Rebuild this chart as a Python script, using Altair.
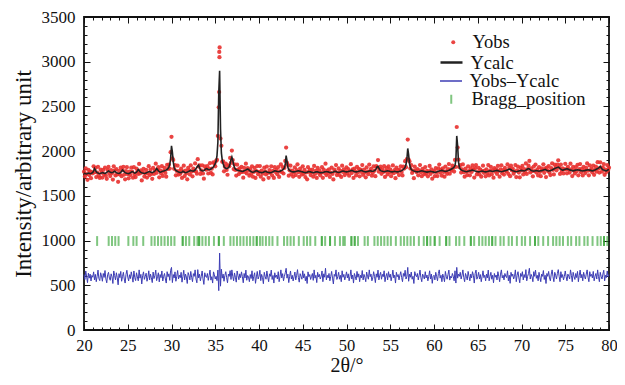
import altair as alt
import pandas as pd

FONT = "Liberation Serif"

# 2theta grid: 20.0 .. 80.0, step 0.1
X_START = 20.0
X_STEP = 0.1

# Ycalc (black line), one row per degree
YCALC = [
    1750, 1752, 1748, 1745, 1750, 1755, 1752, 1748, 1750, 1755,
    1762, 1780, 1805, 1790, 1770, 1760, 1755, 1750, 1748, 1752,
    1755, 1760, 1758, 1752, 1750, 1755, 1762, 1770, 1778, 1772,
    1765, 1760, 1758, 1762, 1770, 1775, 1768, 1760, 1755, 1752,
    1750, 1755, 1762, 1775, 1790, 1780, 1768, 1760, 1755, 1752,
    1750, 1748, 1752, 1758, 1765, 1772, 1768, 1760, 1755, 1758,
    1765, 1778, 1795, 1785, 1770, 1762, 1758, 1755, 1752, 1750,
    1752, 1756, 1760, 1765, 1770, 1772, 1768, 1762, 1760, 1765,
    1770, 1778, 1790, 1805, 1795, 1780, 1770, 1765, 1768, 1772,
    1775, 1778, 1782, 1786, 1790, 1795, 1805, 1820, 1850, 1920,
    2060, 1990, 1880, 1820, 1795, 1785, 1778, 1772, 1768, 1765,
    1762, 1760, 1765, 1775, 1770, 1762, 1758, 1760, 1765, 1770,
    1775, 1780, 1785, 1782, 1778, 1775, 1780, 1790, 1805, 1820,
    1835, 1845, 1815, 1795, 1785, 1780, 1778, 1782, 1790, 1800,
    1805, 1800, 1795, 1792, 1795, 1800, 1808, 1815, 1825, 1840,
    1860, 1890, 1950, 2100, 2650, 2900, 2250, 1980, 1900, 1860,
    1830, 1815, 1808, 1805, 1808, 1815, 1830, 1860, 1905, 1935,
    1900, 1850, 1815, 1800, 1792, 1788, 1785, 1782, 1780, 1778,
    1775, 1772, 1775, 1780, 1785, 1790, 1795, 1800, 1795, 1785,
    1778, 1772, 1768, 1765, 1768, 1772, 1778, 1782, 1778, 1772,
    1768, 1765, 1762, 1760, 1762, 1765, 1770, 1775, 1772, 1768,
    1765, 1762, 1760, 1758, 1760, 1765, 1770, 1775, 1780, 1778,
    1775, 1772, 1770, 1772, 1775, 1780, 1785, 1792, 1800, 1812,
    1850, 1950, 1890, 1820, 1795, 1785, 1778, 1772, 1770, 1768,
    1768, 1770, 1772, 1775, 1778, 1780, 1778, 1775, 1772, 1770,
    1768, 1765, 1762, 1760, 1762, 1765, 1770, 1772, 1770, 1768,
    1765, 1762, 1760, 1762, 1765, 1768, 1770, 1768, 1765, 1762,
    1760, 1758, 1760, 1762, 1765, 1768, 1770, 1772, 1770, 1768,
    1765, 1762, 1760, 1762, 1765, 1768, 1772, 1775, 1772, 1768,
    1765, 1762, 1765, 1768, 1772, 1775, 1778, 1775, 1772, 1770,
    1768, 1770, 1772, 1775, 1778, 1782, 1785, 1780, 1775, 1772,
    1770, 1768, 1770, 1772, 1775, 1778, 1782, 1785, 1780, 1775,
    1772, 1770, 1768, 1770, 1772, 1775, 1778, 1780, 1778, 1775,
    1775, 1778, 1782, 1790, 1805, 1825, 1830, 1810, 1792, 1782,
    1778, 1775, 1772, 1770, 1772, 1775, 1778, 1780, 1778, 1775,
    1772, 1770, 1768, 1770, 1772, 1775, 1772, 1770, 1768, 1770,
    1772, 1775, 1778, 1782, 1788, 1795, 1805, 1820, 1850, 1910,
    2030, 1960, 1860, 1815, 1795, 1788, 1782, 1778, 1775, 1772,
    1770, 1768, 1770, 1772, 1775, 1778, 1780, 1778, 1775, 1772,
    1770, 1768, 1765, 1768, 1770, 1772, 1775, 1772, 1770, 1768,
    1765, 1762, 1765, 1768, 1772, 1775, 1778, 1780, 1782, 1785,
    1782, 1778, 1775, 1772, 1775, 1778, 1780, 1785, 1790, 1795,
    1800, 1805, 1812, 1822, 1840, 1900, 2170, 2060, 1880, 1820,
    1800, 1790, 1785, 1780, 1778, 1775, 1772, 1770, 1772, 1775,
    1778, 1780, 1782, 1785, 1788, 1785, 1780, 1778, 1775, 1772,
    1770, 1768, 1770, 1772, 1775, 1778, 1775, 1772, 1770, 1768,
    1770, 1772, 1775, 1778, 1780, 1778, 1775, 1772, 1775, 1778,
    1780, 1782, 1785, 1782, 1778, 1775, 1772, 1770, 1772, 1775,
    1778, 1780, 1782, 1785, 1790, 1795, 1800, 1798, 1792, 1785,
    1780, 1778, 1775, 1772, 1770, 1772, 1775, 1778, 1780, 1782,
    1785, 1782, 1780, 1778, 1782, 1788, 1795, 1800, 1805, 1800,
    1792, 1785, 1780, 1778, 1775, 1778, 1780, 1782, 1780, 1778,
    1775, 1778, 1780, 1782, 1785, 1788, 1792, 1795, 1790, 1785,
    1780, 1778, 1780, 1782, 1785, 1790, 1795, 1800, 1805, 1810,
    1815, 1818, 1822, 1815, 1805, 1798, 1792, 1788, 1790, 1795,
    1798, 1800, 1802, 1800, 1795, 1790, 1788, 1785, 1782, 1780,
    1782, 1785, 1788, 1790, 1792, 1790, 1788, 1785, 1782, 1780,
    1778, 1780, 1782, 1785, 1788, 1790, 1792, 1790, 1788, 1785,
    1782, 1780, 1782, 1785, 1790, 1795, 1800, 1805, 1810, 1820,
    1830, 1815, 1800, 1792, 1788, 1785, 1782, 1780, 1785, 1792,
    1795,
]

# Yobs - Ycalc curve (blue), drawn shifted up by OFFSET
OFFSET = 600
DIFF = [
    620, 565, 660, 598, 530, 635, 580, 625, 548, 610,
    590, 650, 560, 622, 540, 600, 670, 575, 552, 640,
    605, 545, 632, 588, 665, 570, 528, 618, 645, 580,
    556, 628, 595, 520, 660, 608, 560, 640, 585, 505,
    630, 585, 655, 545, 598, 645, 570, 525, 622, 668,
    592, 548, 618, 575, 650, 600, 535, 660, 586, 552,
    640, 594, 550, 672, 580, 622, 515, 608, 650, 566,
    600, 635, 545, 590, 662, 560, 625, 584, 530, 648,
    575, 610, 670, 552, 596, 640, 538, 620, 585, 660,
    548, 600, 632, 570, 525, 652, 596, 628, 555, 668,
    700, 530, 620, 582, 650, 545, 600, 665, 570, 612,
    585, 645, 535, 600, 668, 560, 625, 592, 520, 642,
    610, 560, 655, 590, 540, 630, 600, 672, 570, 528,
    675, 582, 625, 550, 600, 660, 572, 510, 640, 598,
    588, 632, 555, 610, 670, 558, 596, 525, 650, 618,
    570, 600, 552, 670, 440, 860, 490, 680, 580, 625,
    545, 610, 652, 585, 528, 625, 600, 664, 565, 672,
    600, 550, 638, 590, 535, 660, 608, 562, 628, 585,
    650, 596, 528, 632, 582, 670, 556, 610, 592, 540,
    620, 576, 662, 550, 600, 640, 522, 594, 655, 570,
    600, 668, 552, 622, 586, 518, 645, 600, 568, 660,
    592, 540, 628, 600, 670, 565, 610, 525, 640, 588,
    615, 570, 652, 540, 600, 672, 582, 630, 550, 600,
    640, 690, 580, 625, 530, 600, 660, 570, 612, 548,
    596, 648, 560, 612, 675, 585, 535, 630, 600, 568,
    662, 582, 628, 550, 600, 520, 650, 596, 620, 565,
    600, 632, 555, 672, 580, 612, 530, 645, 592, 622,
    570, 600, 660, 540, 628, 590, 690, 560, 612, 582,
    632, 550, 600, 655, 580, 515, 622, 600, 672, 565,
    596, 645, 568, 612, 540, 662, 590, 622, 560, 600,
    650, 582, 628, 550, 600, 672, 570, 615, 525, 632,
    600, 560, 655, 590, 628, 540, 612, 582, 665, 560,
    622, 590, 540, 648, 600, 568, 672, 596, 625, 550,
    582, 652, 600, 530, 628, 590, 670, 560, 612, 645,
    568, 622, 596, 662, 540, 600, 632, 560, 652, 590,
    625, 550, 600, 670, 582, 612, 525, 645, 596, 620,
    560, 612, 652, 586, 540, 632, 600, 668, 570, 600,
    700, 545, 625, 590, 648, 568, 600, 520, 652, 612,
    596, 632, 560, 612, 670, 586, 540, 625, 600, 570,
    652, 582, 615, 550, 600, 662, 570, 625, 522, 600,
    612, 560, 645, 596, 550, 632, 672, 580, 612, 540,
    625, 590, 540, 655, 600, 568, 620, 670, 558, 600,
    582, 632, 600, 550, 662, 525, 700, 580, 625, 600,
    645, 570, 612, 672, 586, 540, 632, 600, 560, 655,
    600, 550, 625, 582, 652, 612, 525, 632, 670, 568,
    596, 645, 570, 620, 540, 600, 662, 586, 612, 550,
    625, 582, 670, 550, 600, 645, 568, 612, 528, 632,
    590, 615, 560, 652, 600, 540, 625, 672, 582, 612,
    560, 632, 600, 586, 662, 550, 612, 522, 645, 600,
    625, 570, 600, 672, 540, 612, 652, 582, 528, 632,
    600, 652, 560, 620, 586, 675, 550, 600, 632, 690,
    570, 622, 596, 540, 652, 600, 670, 578, 612, 550,
    645, 590, 540, 625, 600, 665, 565, 612, 520, 632,
    600, 655, 582, 550, 625, 672, 596, 540, 645, 612,
    570, 632, 675, 600, 540, 652, 586, 620, 560, 600,
    660, 596, 550, 625, 600, 570, 672, 612, 540, 645,
    600, 565, 632, 586, 655, 540, 612, 670, 582, 622,
    550, 645, 600, 570, 625, 672, 590, 540, 652, 600,
    622, 582, 655, 550, 600, 632, 570, 672, 596, 540,
    645, 600, 570, 625, 668, 550, 612, 586, 660, 596,
    620,
]

# extra observed points stacked at the top of the main peak
PEAK_X = [35.46, 35.48, 35.44]
PEAK_Y = [3110, 3050, 2660]

# Bragg reflection positions (repeated entries = overlapping reflections)
BRAGG = [
    21.50, 22.82, 23.20, 23.57, 23.95, 25.07, 25.64, 26.01, 26.77, 27.71,
    28.08, 28.46, 28.83, 29.21, 29.59, 29.96, 30.34, 31.28, 31.28, 31.65,
    32.03, 32.59, 32.97, 33.16, 33.16, 33.53, 33.91, 34.28, 34.85, 35.41,
    35.41, 35.98, 36.73, 37.10, 37.48, 37.86, 38.23, 38.61, 38.98, 39.36,
    39.74, 39.74, 40.11, 40.41, 40.79, 41.17, 41.54, 42.11, 42.86, 43.23,
    43.61, 43.98, 44.55, 45.11, 45.49, 45.86, 46.43, 47.18, 47.18, 47.56,
    48.12, 48.12, 48.68, 49.25, 49.62, 49.81, 50.56, 50.56, 50.94, 50.94,
    51.31, 52.07, 52.44, 53.19, 53.57, 53.95, 54.32, 54.70, 55.07, 55.64,
    56.20, 56.58, 56.95, 57.33, 57.71, 58.27, 58.83, 59.21, 59.21, 59.59,
    60.08, 60.08, 60.64, 61.39, 61.39, 61.77, 62.52, 62.90, 63.46, 64.21,
    64.21, 64.59, 65.15, 65.53, 65.90, 66.28, 66.65, 66.65, 67.03, 67.59,
    67.97, 68.53, 68.91, 69.47, 70.04, 70.41, 70.98, 71.54, 71.54, 71.92,
    72.48, 73.04, 73.61, 73.98, 74.36, 74.74, 75.30, 75.68, 76.24, 76.62,
    77.18, 77.56, 78.12, 78.68, 79.06, 79.43, 79.43, 79.81,
]
BRAGG_LOW = 940
BRAGG_HIGH = 1050

X_TICKS = [20, 25, 30, 35, 40, 45, 50, 55, 60, 65, 70, 75, 80]
Y_TICKS = [0, 500, 1000, 1500, 2000, 2500, 3000, 3500]
X_MINOR = list(range(20, 81))
Y_MINOR = list(range(0, 3501, 100))

SERIES = ["Yobs", "Ycalc", "Yobs\u2013Ycalc", "Bragg_position"]
COLORS = ["#e8302e", "#222222", "#3c3cb4", "#2ca02c"]

W, H = 525, 313

n = min(len(YCALC), len(DIFF))
xs = [round(X_START + X_STEP * i, 1) for i in range(n)]
ycalc = YCALC[:n]
diff = DIFF[:n]
yobs = [c + d - OFFSET for c, d in zip(ycalc, diff)]

obs_df = pd.DataFrame({"x": xs + PEAK_X, "y": yobs + PEAK_Y, "s": SERIES[0]})
calc_df = pd.DataFrame({"x": xs, "y": ycalc, "s": SERIES[1]})
diff_df = pd.DataFrame({"x": xs, "y": diff, "s": SERIES[2]})
bragg_df = pd.DataFrame({"x": BRAGG, "y": BRAGG_LOW, "y2": BRAGG_HIGH, "s": SERIES[3]})

xscale = alt.Scale(domain=[20, 80], nice=False, zero=False)
yscale = alt.Scale(domain=[0, 3500], nice=False, zero=False)


def tick_axis(orient, values, size, offset):
    return alt.Axis(orient=orient, values=values, tickSize=size, offset=offset,
                    labels=False, domain=False, grid=False, title=None,
                    tickColor="#111111", tickWidth=1)


main_x = alt.Axis(orient="bottom", values=X_TICKS, ticks=False, domain=False, grid=False,
                  labelFont=FONT, labelFontSize=16.5, labelPadding=7, labelColor="#111111",
                  labelFlush=False, labelOverlap=False, format="d",
                  title="2\u03b8/\u00b0", titleFont=FONT, titleFontSize=20,
                  titleFontWeight="normal", titleColor="#111111", titlePadding=2)
main_y = alt.Axis(orient="left", values=Y_TICKS, ticks=False, domain=False, grid=False,
                  labelFont=FONT, labelFontSize=17, labelPadding=9, labelColor="#111111",
                  labelFlush=False, labelOverlap=False, format="d",
                  title="Intensity/arbitrary unit", titleFont=FONT, titleFontSize=23,
                  titleFontWeight="normal", titleColor="#111111", titlePadding=6)

LEG_Y = [16, 33, 52, 73]


def leg(row, lx, loff, **kw):
    return alt.Legend(orient="none", legendX=lx, legendY=LEG_Y[row], title=None,
                      labelFont=FONT, labelFontSize=18.5, labelColor="#111111",
                      padding=0, labelOffset=loff, **kw)


def cscale(i):
    return alt.Scale(domain=[SERIES[i]], range=[COLORS[i]])


obs = alt.Chart(obs_df).mark_circle(size=18, opacity=0.9).encode(
    x=alt.X("x:Q", scale=xscale, axis=main_x),
    y=alt.Y("y:Q", scale=yscale, axis=main_y),
    color=alt.Color("s:N", scale=cscale(0),
                    legend=leg(0, 360, 10, symbolType="circle", symbolSize=16)),
)

calc = alt.Chart(calc_df).mark_line(strokeWidth=1.6).encode(
    x=alt.X("x:Q", scale=xscale, axis=tick_axis("top", X_MINOR, 3, -H)),
    y=alt.Y("y:Q", scale=yscale, axis=tick_axis("right", Y_MINOR, 3, -W)),
    color=alt.Color("s:N", scale=cscale(1),
                    legend=leg(1, 355, 6.5, symbolType="stroke", symbolSize=484,
                               symbolStrokeWidth=2.5)),
)

dif = alt.Chart(diff_df).mark_line(strokeWidth=1).encode(
    x=alt.X("x:Q", scale=xscale, axis=tick_axis("top", X_TICKS, 6, -H)),
    y=alt.Y("y:Q", scale=yscale, axis=tick_axis("right", Y_TICKS, 6, -W)),
    color=alt.Color("s:N", scale=cscale(2),
                    legend=leg(2, 355, 6.5, symbolType="stroke", symbolSize=484,
                               symbolStrokeWidth=1.5)),
)

bragg = alt.Chart(bragg_df).mark_rule(strokeWidth=2, opacity=0.6).encode(
    x=alt.X("x:Q", scale=xscale, axis=tick_axis("bottom", X_MINOR, 3, -H)),
    y=alt.Y("y:Q", scale=yscale, axis=tick_axis("left", Y_MINOR, 3, -W)),
    y2="y2:Q",
    color=alt.Color("s:N", scale=cscale(3),
                    legend=leg(3, 358, 11, symbolType="M0,-1L0,1", symbolSize=81,
                               symbolStrokeWidth=2)),
)

frame_ticks = alt.Chart(calc_df).mark_point(opacity=0).encode(
    x=alt.X("x:Q", scale=xscale, axis=tick_axis("bottom", X_TICKS, 6, -H)),
    y=alt.Y("y:Q", scale=yscale, axis=tick_axis("left", Y_TICKS, 6, -W)),
)

chart = alt.layer(obs, calc, dif, bragg, frame_ticks).resolve_scale(
    color="independent"
).resolve_axis(
    x="independent", y="independent"
).properties(
    width=W, height=H,
    padding={"left": 76, "top": 9, "right": 8, "bottom": 47},
    autosize=alt.AutoSizeParams(type="none"),
).configure(
    font=FONT
).configure_view(
    stroke="#111111", strokeWidth=1.8
).configure_axis(
    labelFont=FONT, titleFont=FONT
).configure_legend(
    labelFont=FONT
)

chart.save("out.html", embed_options={"renderer": "svg", "actions": False})
